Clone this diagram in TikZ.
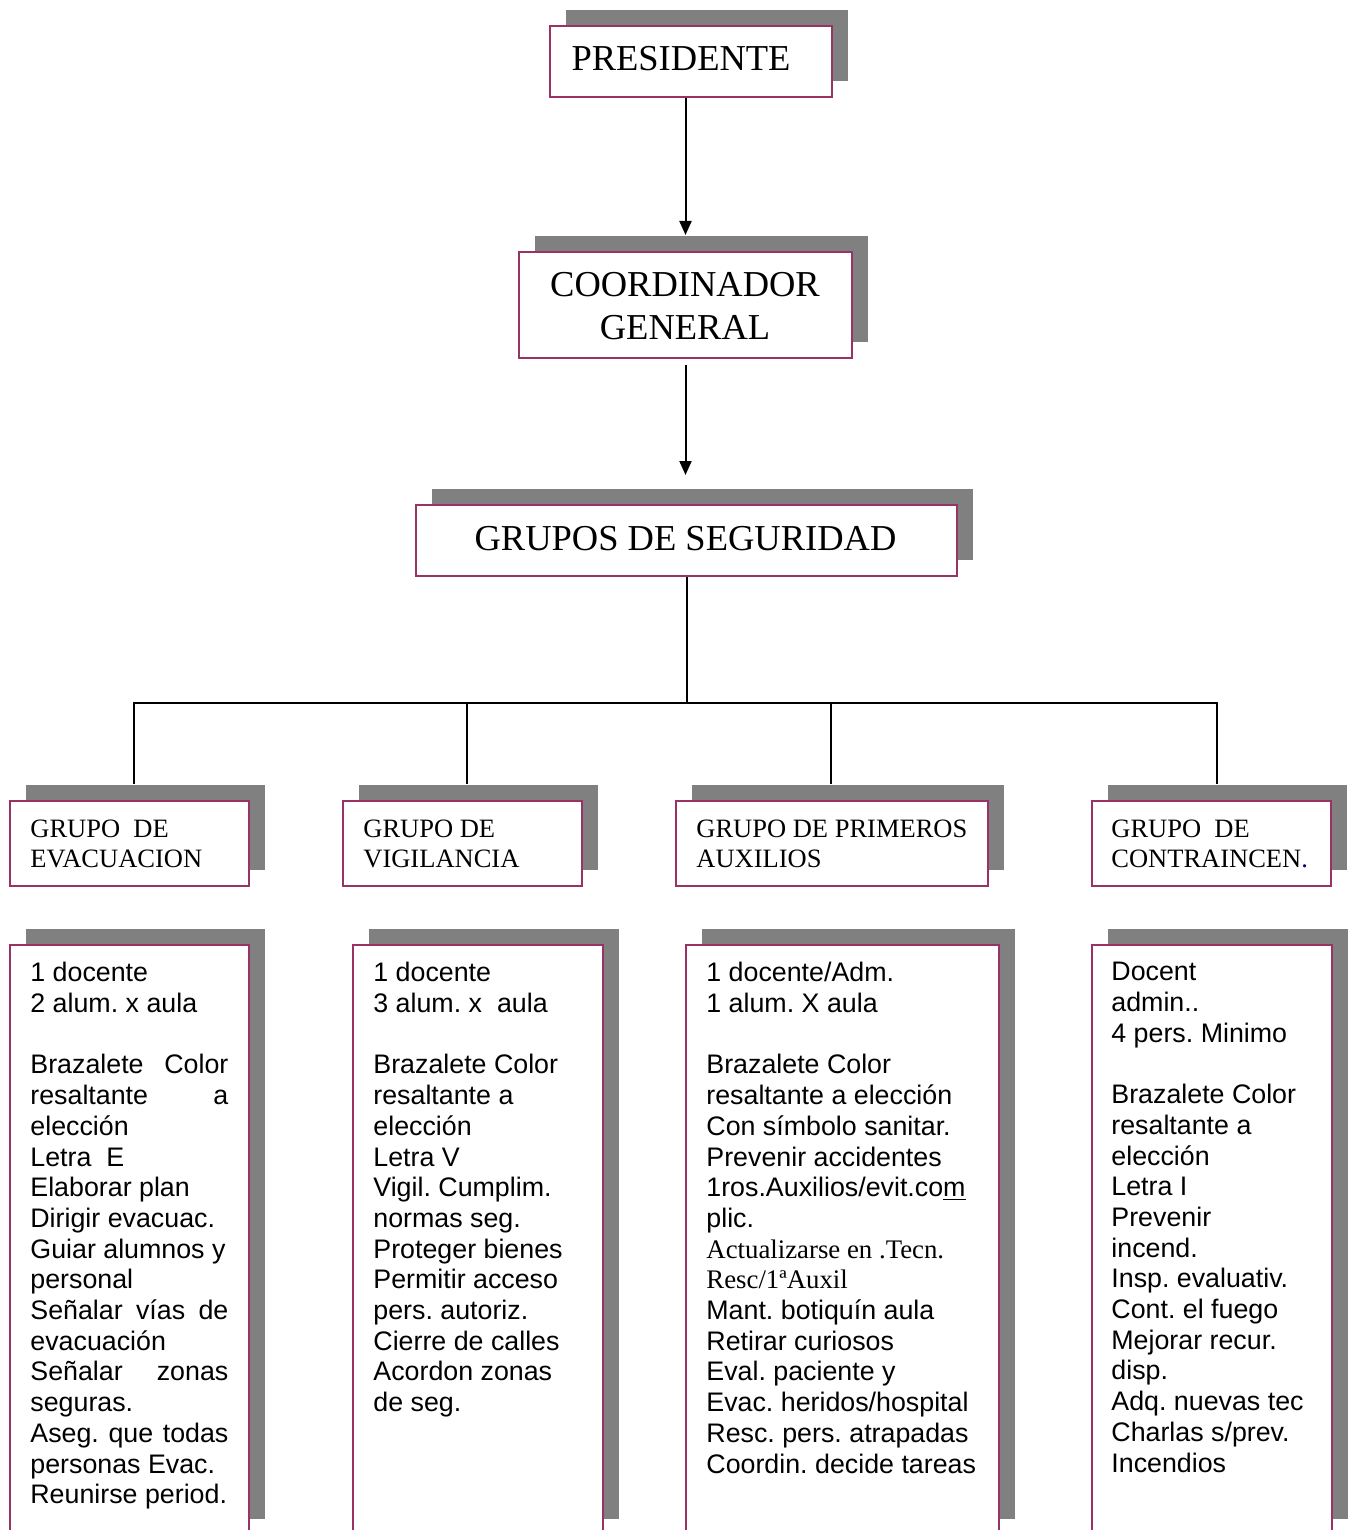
\documentclass[tikz,border=0pt]{standalone}
\usepackage{fontspec}
\setmainfont{Liberation Serif}
\setsansfont{Liberation Sans}
\usetikzlibrary{shadows,arrows.meta}
\definecolor{boxborder}{HTML}{993366}
\definecolor{shadowgray}{HTML}{808080}
\definecolor{navydot}{HTML}{000080}
\frenchspacing
\tikzset{
  box/.style={draw=boxborder, line width=1pt, fill=white, inner sep=0pt, anchor=north west,
    general shadow={fill=shadowgray, shadow xshift=8pt, shadow yshift=8pt}},
  bigtxt/.style={font=\fontsize{18.25}{21.5}\selectfont\rmfamily, inner sep=0pt, align=center},
  grptxt/.style={font=\fontsize{13.25}{15}\selectfont\rmfamily, inner sep=0pt, align=left, anchor=north west},
  bodytxt/.style={font=\fontsize{13.4}{15.35}\selectfont\sffamily, inner sep=0pt, align=left, anchor=north west},
  conn/.style={line width=1pt},
  arr/.style={line width=1pt, -{Triangle[length=7pt,width=6pt]}}
}
\newcommand{\jline}[1]{\makebox[99pt][s]{#1}}
\begin{document}
\begin{tikzpicture}[x=0.5pt,y=-0.5pt]
\useasboundingbox (0,0) rectangle (1350,1530);
\clip (0,0) rectangle (1350,1530);
% top boxes
\node[box, minimum width=141pt, minimum height=35.5pt] (pres) at (549,25) {};
\node[bigtxt, anchor=base] (prestxt) at (681,71) {PRESIDENTE};
\node[box, minimum width=166.5pt, minimum height=53pt] (coord) at (518,251) {};
\node[bigtxt, anchor=north] (coordtxt) at (685,272) {COORDINADOR\\GENERAL};
\node[box, minimum width=270.5pt, minimum height=35.5pt] (grupos) at (415,504) {};
\node[bigtxt, anchor=base] (grupostxt) at (685.5,550) {GRUPOS DE SEGURIDAD};
% group boxes
\node[box, minimum width=119.5pt, minimum height=42.5pt] (g1) at (9,800) {};
\node[grptxt] (g1txt) at (30,820) {GRUPO\ \ DE\\EVACUACION};
\node[box, minimum width=119.5pt, minimum height=42.5pt] (g2) at (342,800) {};
\node[grptxt] (g2txt) at (363,820) {GRUPO DE\\VIGILANCIA};
\node[box, minimum width=156pt, minimum height=42.5pt] (g3) at (675,800) {};
\node[grptxt] (g3txt) at (696,820) {GRUPO DE PRIMEROS\\AUXILIOS};
\node[box, minimum width=119.5pt, minimum height=42.5pt] (g4) at (1091,800) {};
\node[grptxt] (g4txt) at (1111,820) {GRUPO\ \ DE\\CONTRAINCEN{\color{navydot}.}};
% body boxes
\node[box, minimum width=119.5pt, minimum height=295pt] (b1) at (9,944) {};
\node[box, minimum width=125pt, minimum height=295pt] (b2) at (352,944) {};
\node[box, minimum width=156.5pt, minimum height=295pt] (b3) at (685,944) {};
\node[box, minimum width=120pt, minimum height=295pt] (b4) at (1091,944) {};
\node[bodytxt] (b1txt) at (30,962) {1 docente\\2 alum. x aula\\~\\
\jline{Brazalete Color}\\\jline{resaltante a}\\elección\\Letra\ \ E\\Elaborar plan\\Dirigir evacuac.\\
Guiar alumnos y\\personal\\\jline{Señalar vías de}\\evacuación\\\jline{Señalar zonas}\\seguras.\\
\jline{Aseg. que todas}\\personas Evac.\\Reunirse period.};
\node[bodytxt] (b2txt) at (373,962) {1 docente\\3 alum. x\ \ aula\\~\\
Brazalete Color\\resaltante a\\elección\\Letra V\\Vigil. Cumplim.\\normas seg.\\Proteger bienes\\
Permitir acceso\\pers. autoriz.\\Cierre de calles\\Acordon zonas\\de seg.};
\node[bodytxt] (b3txt) at (706,962) {1 docente/Adm.\\1 alum. X aula\\~\\
Brazalete Color\\resaltante a elección\\Con símbolo sanitar.\\Prevenir accidentes\\
1ros.Auxilios/evit.co\underline{m}\\plic.\\{\rmfamily Actualizarse en .Tecn.}\\{\rmfamily Resc/1ªAuxil}\\
Mant. botiquín aula\\Retirar curiosos\\Eval. paciente y\\Evac. heridos/hospital\\
Resc. pers. atrapadas\\Coordin. decide tareas};
\node[bodytxt] (b4txt) at (1111,962) {Docent\\admin..\\4 pers. Minimo\\~\\
Brazalete Color\\resaltante a\\elección\\Letra I\\Prevenir\\incend.\\Insp. evaluativ.\\
Cont. el fuego\\Mejorar recur.\\disp.\\Adq. nuevas tec\\Charlas s/prev.\\Incendios};
% connectors
\draw[arr] (pres.south -| coord.north) -- ([yshift=8pt]coord.north);
\draw[arr] ([yshift=-3pt]coord.south) -- ([yshift=14.5pt]coord.south |- grupos.north);
\coordinate (junc) at ([yshift=-63pt]grupos.south);
\draw[conn] (grupos.south) -- (junc);
\draw[conn] (junc) -| ([xshift=2.25pt,yshift=8pt]g1.north);
\draw[conn] (junc) -| ([xshift=2.25pt,yshift=8pt]g2.north);
\draw[conn] (junc) -| ([xshift=-0.5pt,yshift=8pt]g3.north);
\draw[conn] (junc) -| ([xshift=2.75pt,yshift=8pt]g4.north);
\end{tikzpicture}
\end{document}
